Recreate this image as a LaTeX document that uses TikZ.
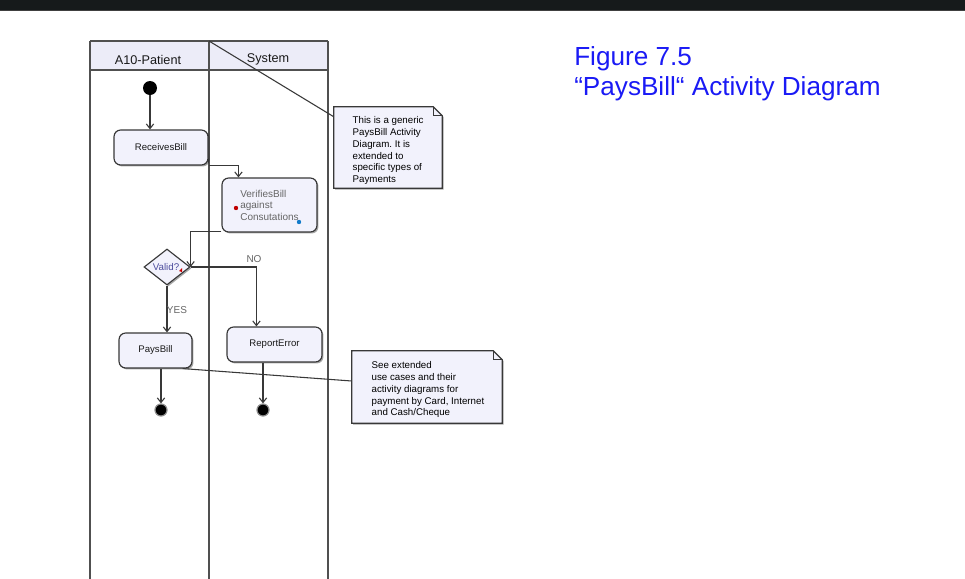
\documentclass[tikz,border=0pt]{standalone}
\usepackage{fontspec}
\setmainfont{Liberation Sans}
\usetikzlibrary{shapes.geometric,shadows,calc,arrows.meta}
\definecolor{actfill}{HTML}{F2F2FC}
\definecolor{hdrfill}{HTML}{ECECF8}
\definecolor{lanecol}{HTML}{505050}
\definecolor{titleblue}{HTML}{1A1AF5}
\definecolor{barcol}{HTML}{161A1B}
\definecolor{edgecol}{HTML}{383838}
\definecolor{gtext}{HTML}{666666}
\frenchspacing
\begin{document}
\begin{tikzpicture}[x=0.75pt,y=-0.75pt,
  shad/.style={drop shadow={shadow xshift=1.1pt,shadow yshift=-1.1pt,opacity=0.35,fill=black}},
  act/.style={rectangle,rounded corners=5pt,draw=edgecol,line width=0.85pt,fill=actfill,shad,
    font=\fontsize{7.2}{8.6}\selectfont,text=black!90,inner sep=1pt},
  dec/.style={diamond,draw=edgecol,line width=0.85pt,fill=actfill,shad,inner sep=0pt,
    minimum width=34.5pt,minimum height=27pt},
  startnode/.style={circle,fill=black,inner sep=0pt,minimum size=10.5pt},
  endnode/.style={circle,fill=black,draw=black!45,line width=0.9pt,inner sep=0pt,minimum size=9pt},
  arr/.style={draw=edgecol,line width=0.8pt,-{Straight Barb[length=3.5pt,width=5.5pt]}},
  link/.style={draw=edgecol,line width=0.8pt},
  notetext/.style={font=\fontsize{7.3}{8.85}\selectfont,align=left,text=black},
  lane/.style={draw=lanecol,line width=1.3pt},
  hdr/.style={font=\fontsize{9.5}{11}\selectfont,text=black!90},
  elabel/.style={font=\fontsize{7.5}{9}\selectfont,text=gtext},
  title/.style={font=\fontsize{19.6}{23}\selectfont,text=titleblue,anchor=west,inner sep=0pt}]
\useasboundingbox (0,0) rectangle (965,579);
\fill[white] (0,0) rectangle (965,579);
% top bar
\fill[barcol] (0,0) rectangle (965,10);
\fill[black!75] (0,10) rectangle (965,11);
% swimlanes
\fill[hdrfill] (90,41) rectangle (328,70);
\draw[draw=lanecol,line width=0.9pt] (90,41) -- (328,41);
\draw[draw=lanecol,line width=0.9pt] (90,70) -- (328,70);
\draw[lane] (90,41) -- (90,579);
\draw[lane] (209,41) -- (209,579);
\draw[lane] (328,41) -- (328,579);
\coordinate (lanetop) at (209,41);
\node[hdr] (h1) at (148,59.5) {A10-Patient};
\node[hdr] (h2) at (268,59.5) {System};
% nodes
\node[startnode] (start) at (150,88) {};
\node[act,minimum width=70.5pt,minimum height=26.25pt] (rb) at (161,147.5) {ReceivesBill};
\node[act,minimum width=71.25pt,minimum height=40.5pt,align=left,text=gtext,font=\fontsize{7.5}{8.6}\selectfont] (vb) at (269.5,205) {VerifiesBill\\against\\Consutations};
\node[dec] (d) at (167,267) {};
\node[font=\fontsize{7.3}{8}\selectfont,text=black!55!blue!70] (dt) at (166,267) {Valid?};
\node[act,minimum width=54.75pt,minimum height=26.25pt] (pb) at (155.5,350.5) {PaysBill};
\node[act,minimum width=71.25pt,minimum height=26.25pt] (re) at (274.5,344.5) {ReportError};
\node[endnode] (e1) at (161,410) {};
\node[endnode] (e2) at (263,410) {};
% small marks
\fill[red!75!black] (236,208) circle (2.2);
\fill[cyan!60!blue] (299,222) circle (2.2);
\fill[red!80!black] (179,271) -- (182,268) -- (182,272) -- cycle;
% edges
\draw[arr] (start) -- (start |- rb.north);
\draw[arr] (rb.south east) -| ($(vb.north west)+(17,0)$);
\draw[arr] ($(vb.south west)+(0,-1)$) -| (d.east);
\draw[arr] (d.east) -| ($(re.north west)+(30,0)$);
\draw[arr] (d.south) -- (d.south |- pb.north);
\draw[arr] (e1 |- pb.south) -- (e1.north);
\draw[arr] (e2 |- re.south) -- (e2.north);
\node[elabel] (lno) at (254,259) {NO};
\node[elabel] (lyes) at (177,310) {YES};
% notes
\node[minimum width=81pt,minimum height=60.75pt,inner sep=0pt] (n1) at (388,147.5) {};
\node[minimum width=112.5pt,minimum height=54pt,inner sep=0pt] (n2) at (427,387) {};
\foreach \n in {n1,n2}{
  \path[fill=actfill,draw=edgecol,line width=0.85pt,shad]
    (\n.north west) -- ($(\n.north east)+(-9,0)$) -- ($(\n.north east)+(0,9)$) -- (\n.south east) -- (\n.south west) -- cycle;
  \draw[draw=edgecol,line width=0.7pt] ($(\n.north east)+(-9,0)$) -- ($(\n.north east)+(-9,9)$) -- ($(\n.north east)+(0,9)$);
}
\node[notetext,anchor=north west] (t1) at (348,112) {This is a generic\\PaysBill Activity\\Diagram. It is\\extended to\\specific types of\\Payments};
\node[notetext,anchor=north west] (t2) at (367,357) {See extended\\use cases and their\\activity diagrams for\\payment by Card, Internet\\and Cash/Cheque};
\draw[link] (lanetop) -- ($(n1.north west)+(0,10)$);
\draw[link] ($(pb.south east)+(-10,0)$) -- ($(n2.west)+(0,-6)$);
% title
\node[title] (ti1) at (574,59) {Figure 7.5};
\node[title] (ti2) at (574,88.5) {“PaysBill“ Activity Diagram};
\end{tikzpicture}
\end{document}
